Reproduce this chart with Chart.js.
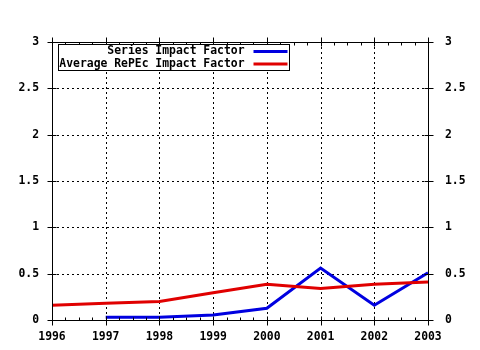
<!DOCTYPE html>
<html><head><meta charset="utf-8">
<script src="https://cdn.jsdelivr.net/npm/chart.js@4/dist/chart.umd.min.js"></script>
<style>html,body{margin:0;padding:0;background:#fff}#c{display:block}</style>
</head><body>
<canvas id="c" width="480" height="350"></canvas>
<script>
const years = [1996, 1997, 1998, 1999, 2000, 2001, 2002, 2003];
const seriesImpact = [null, 0.03, 0.03, 0.054, 0.126, 0.56, 0.16, 0.51];
const avgRepec = [0.16, 0.18, 0.2, 0.295, 0.385, 0.34, 0.385, 0.41];
const seriesNames = ['Series Impact Factor', 'Average RePEc Impact Factor'];
const seriesColors = ['#0000e0', '#e00000'];
const yTicks = [0, 0.5, 1, 1.5, 2, 2.5, 3];

const FAMILY = '"DejaVu Sans Mono", "Liberation Mono", monospace';
const FONT = 'bold 11.4px ' + FAMILY;
const tickFont = {family: FAMILY, size: 11.4, weight: 'bold'};

const toPts = arr => years.map((y, i) => ({x: y, y: arr[i]}));

const gridPlugin = {
  id: 'dotgrid',
  beforeDatasetsDraw(chart) {
    const {ctx, chartArea: a, scales} = chart;
    ctx.save();
    ctx.strokeStyle = '#000';
    ctx.lineWidth = 1;
    ctx.setLineDash([2, 3]);
    ctx.beginPath();
    years.slice(1, -1).forEach(v => {
      const px = Math.round(scales.x.getPixelForValue(v)) + 0.5;
      ctx.moveTo(px, a.top); ctx.lineTo(px, a.bottom);
    });
    yTicks.slice(1, -1).forEach(v => {
      const py = Math.round(scales.y.getPixelForValue(v)) + 0.5;
      ctx.moveTo(a.left, py); ctx.lineTo(a.right, py);
    });
    ctx.stroke();
    ctx.restore();
  }
};

const framePlugin = {
  id: 'frame',
  afterDraw(chart) {
    const {ctx, chartArea: a, scales} = chart;
    const xs = scales.x, ys = scales.y;
    ctx.save();
    ctx.strokeStyle = '#000';
    ctx.lineWidth = 1;
    const L = Math.round(a.left) + 0.5, R = Math.round(a.right) + 0.5;
    const T = Math.round(a.top) + 0.5, B = Math.round(a.bottom) + 0.5;
    ctx.strokeRect(L, T, R - L, B - T);
    ctx.beginPath();
    for (let i = 0; i < years.length; i++) {
      const px = Math.round(xs.getPixelForValue(years[i])) + 0.5;
      ctx.moveTo(px, B - 4); ctx.lineTo(px, B + 5);
      ctx.moveTo(px, T - 5); ctx.lineTo(px, T + 4);
      if (i < years.length - 1) {
        for (let k = 1; k < 4; k++) {
          const mx = Math.round(xs.getPixelForValue(years[i] + k / 4)) + 0.5;
          ctx.moveTo(mx, B - 3); ctx.lineTo(mx, B);
          ctx.moveTo(mx, T); ctx.lineTo(mx, T + 3);
        }
      }
    }
    yTicks.forEach(v => {
      const py = Math.round(ys.getPixelForValue(v)) + 0.5;
      ctx.moveTo(L - 5, py); ctx.lineTo(L + 4, py);
      ctx.moveTo(R - 4, py); ctx.lineTo(R + 5, py);
    });
    ctx.stroke();

    // legend box
    const bx = 58.5, by = 44.5, bw = 231, bh = 26;
    ctx.fillStyle = '#fff';
    ctx.fillRect(bx, by, bw, bh);
    ctx.strokeRect(bx, by, bw, bh);
    ctx.font = FONT;
    ctx.textAlign = 'right';
    ctx.textBaseline = 'middle';
    seriesNames.forEach((n, i) => {
      const ty = by + 7 + i * 12.5;
      ctx.fillStyle = '#000';
      ctx.fillText(n, bx + 186, ty);
      ctx.fillStyle = seriesColors[i];
      ctx.fillRect(bx + 195, ty - 1.5, 34, 3);
    });
    ctx.restore();
  }
};

new Chart(document.getElementById('c'), {
  type: 'line',
  data: {
    datasets: [
      {label: seriesNames[1], data: toPts(avgRepec), borderColor: seriesColors[1], borderWidth: 3, pointRadius: 0, tension: 0, fill: false},
      {label: seriesNames[0], data: toPts(seriesImpact), borderColor: seriesColors[0], borderWidth: 3, pointRadius: 0, tension: 0, fill: false, spanGaps: false}
    ]
  },
  options: {
    responsive: false,
    animation: false,
    devicePixelRatio: 1,
    layout: {padding: {top: 42, bottom: 0, left: 0, right: 0}},
    plugins: {legend: {display: false}, tooltip: {enabled: false}},
    scales: {
      x: {
        type: 'linear', min: 1996, max: 2003,
        afterBuildTicks: s => { s.ticks = years.map(v => ({value: v})); },
        afterFit: s => { s.height = 30; },
        border: {display: false},
        grid: {display: false, drawTicks: false},
        ticks: {color: '#000', font: tickFont, padding: 10, maxRotation: 0, autoSkip: false, callback: v => String(v)}
      },
      y: {
        position: 'left', min: 0, max: 3,
        afterBuildTicks: s => { s.ticks = yTicks.map(v => ({value: v})); },
        afterFit: s => { s.width = 52; },
        border: {display: false},
        grid: {display: false, drawTicks: false},
        ticks: {color: '#000', font: tickFont, padding: 13, callback: v => String(v)}
      },
      y2: {
        position: 'right', min: 0, max: 3,
        afterBuildTicks: s => { s.ticks = yTicks.map(v => ({value: v})); },
        afterFit: s => { s.width = 52; },
        border: {display: false},
        grid: {display: false, drawTicks: false},
        ticks: {color: '#000', font: tickFont, padding: 17, callback: v => String(v)}
      }
    }
  },
  plugins: [gridPlugin, framePlugin]
});
</script>
</body></html>
